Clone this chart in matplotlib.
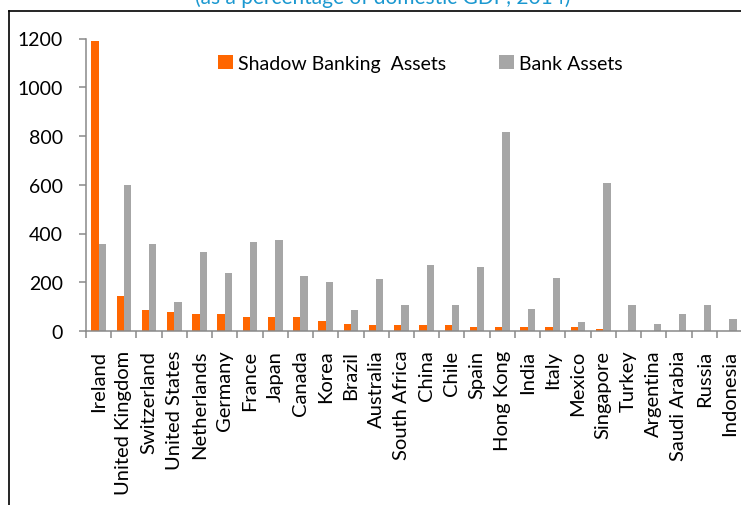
import numpy as np
import matplotlib
matplotlib.use("Agg")
import matplotlib.pyplot as plt
from matplotlib.lines import Line2D

plt.rcParams['font.family'] = ['Lato', 'DejaVu Sans']

countries = ["Ireland", "United Kingdom", "Switzerland", "United States", "Netherlands",
             "Germany", "France", "Japan", "Canada", "Korea", "Brazil", "Australia",
             "South Africa", "China", "Chile", "Spain", "Hong Kong", "India", "Italy",
             "Mexico", "Singapore", "Turkey", "Argentina", "Saudi Arabia", "Russia", "Indonesia"]

# percent of domestic GDP
shadow_assets = [1190, 142, 85, 78, 71, 71, 57, 57, 57, 43, 30, 23,
                 23, 23, 23, 15, 15, 15, 15, 15, 9, 0, 0, 0, 0, 0]
bank_assets = [358, 599, 358, 120, 324, 239, 367, 374, 225, 203, 85, 212,
               106, 269, 106, 262, 815, 91, 218, 35, 606, 106, 29, 71, 106, 49]

y_ticks = [0, 200, 400, 600, 800, 1000, 1200]

orange = '#FF6600'
grey = '#A6A6A6'
spine_col = '#898989'

W, H = 741, 506
fig = plt.figure(figsize=(W / 100, H / 100), dpi=100)
ax = fig.add_axes([86 / W, (H - 332) / H, (742 - 86) / W, (332 - 39.5) / H])

x = np.arange(len(countries))
bw = 0.29
ax.bar(x - bw / 2, shadow_assets, bw, color=orange, label='Shadow Banking  Assets')
ax.bar(x + bw / 2, bank_assets, bw, color=grey, label='Bank Assets')

ax.set_xlim(-0.5, len(countries) - 0.5)
ax.set_ylim(0, 1200)
ax.set_yticks(y_ticks)
ax.set_xticks(x)
ax.set_xticklabels(countries, rotation=90, fontsize=14.5)
ax.set_xticks(np.arange(len(countries) + 1) - 0.5, minor=True)
ax.tick_params(axis='x', which='major', length=0, pad=13.5)
ax.tick_params(axis='x', which='minor', length=5, width=1.1, color=spine_col, direction='out')
ax.tick_params(axis='y', length=5, width=1.1, color=spine_col, direction='out',
               labelsize=14, pad=11.5)

for s in ['top', 'right']:
    ax.spines[s].set_visible(False)
for s in ['left', 'bottom']:
    ax.spines[s].set_color(spine_col)
    ax.spines[s].set_linewidth(1.1)

leg = fig.legend(loc='center', bbox_to_anchor=(420.5 / W, 1 - 64.5 / H), ncol=2,
                 frameon=False, fontsize=14, handlelength=0.75, handleheight=0.75,
                 handletextpad=0.3, columnspacing=2.7)

# box edges from the source slide
fig.add_artist(Line2D([9 / W, 9 / W], [0, 1 - 12 / H], transform=fig.transFigure,
                      color='black', lw=1.2))
fig.add_artist(Line2D([9 / W, 1], [1 - 12 / H, 1 - 12 / H], transform=fig.transFigure,
                      color='black', lw=1.2))

# subtitle sits mostly above the crop, as in the source
fig.text(383 / W, 1 - 4 / H, '(as a percentage of domestic GDP, 2014)', color='#1B98D0',
         fontsize=15, ha='center', va='baseline')

fig.savefig('out.png', dpi=100)
